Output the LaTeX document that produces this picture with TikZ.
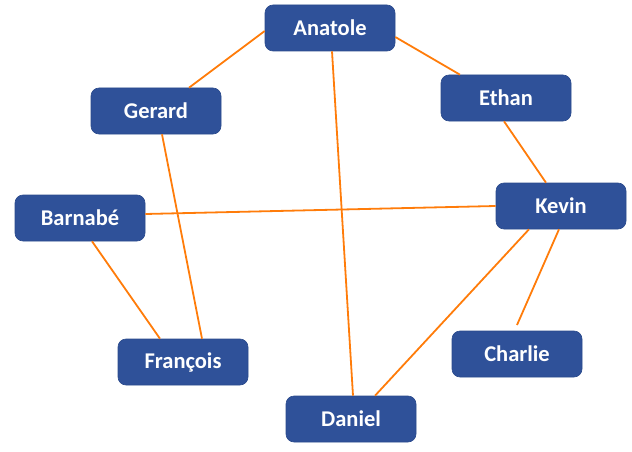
\documentclass[tikz,border=0pt]{standalone}
\usepackage{fontspec}
\setmainfont{Carlito}
\usetikzlibrary{calc}
\definecolor{boxblue}{HTML}{2F5199}
\definecolor{boxline}{HTML}{2A4A8C}
\definecolor{edgeorange}{HTML}{FF7C0A}
\begin{document}
\begin{tikzpicture}[x=1pt,y=-1pt,
  person/.style={draw=boxline, line width=0.6pt, fill=boxblue, rounded corners=8pt,
    minimum width=130pt, minimum height=46pt, inner sep=0pt,
    text=white, font=\bfseries\fontsize{22.5}{26}\selectfont},
  link/.style={draw=edgeorange, line width=1.8pt}]
\useasboundingbox (0,0) rectangle (632,452);
\node[person] (anatole) at (330,28) {Anatole};
\node[person] (gerard) at (156,111) {Gerard};
\node[person] (ethan) at (506,98) {Ethan};
\node[person] (barnabe) at (80,218) {Barnabé};
\node[person] (kevin) at (561,206) {Kevin};
\node[person] (francois) at (183,362) {François};
\node[person] (charlie) at (517,354) {Charlie};
\node[person] (daniel) at (351,419) {Daniel};
\coordinate (cend) at (517,325);
\path[link] ($(anatole.west)+(0,3)$) -- ($(gerard.north)+(33,0)$);
\path[link] ($(anatole.east)+(0,9)$) -- ($(ethan.north)+(-46,0)$);
\path[link] ($(anatole.south)+(2,0)$) -- ($(daniel.north)+(2,0)$);
\path[link] ($(gerard.south)+(6,0)$) -- ($(francois.north)+(19,0)$);
\path[link] ($(ethan.south)+(-2,0)$) -- ($(kevin.north)+(-15,0)$);
\path[link] ($(barnabe.east)+(0,-4)$) -- (kevin.west);
\path[link] ($(barnabe.south)+(12,0)$) -- ($(francois.north)+(-23,0)$);
\path[link] ($(kevin.south)+(-32,0)$) -- ($(daniel.north)+(24,0)$);
\path[link] ($(kevin.south)+(-2,0)$) -- (cend);
\end{tikzpicture}
\end{document}
